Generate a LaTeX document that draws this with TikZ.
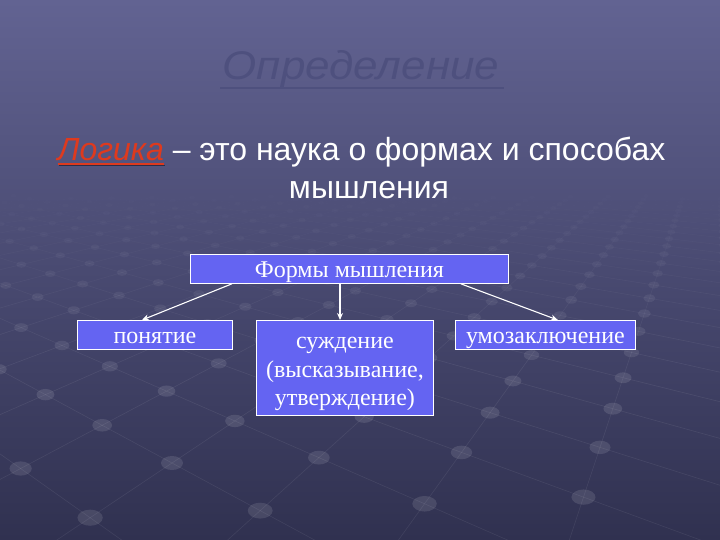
\documentclass[tikz,border=0pt]{standalone}
\usepackage{fontspec}
\setmainfont{Liberation Serif}
\newfontfamily\arialf{Liberation Sans}
\usetikzlibrary{arrows.meta,calc}
\definecolor{bgtop}{RGB}{98,99,146}
\definecolor{bgbot}{RGB}{48,49,80}
\definecolor{boxfill}{RGB}{100,100,242}
\definecolor{titlecol}{RGB}{78,80,126}
\definecolor{logred}{RGB}{222,58,30}
\definecolor{shadowc}{RGB}{45,45,72}
\newcommand\getP[2]{%
  \pgfmathsetmacro\gD{1+0.131*(#1)+0.116*(#2)}%
  \pgfmathsetmacro\gE{max(\gD,0.4)}%
  \pgfmathsetmacro\gx{(172+93.67*(#1)-58*(#2))/\gE}%
  \pgfmathsetmacro\gy{(463+13.1*(#1)+11.6*(#2))/\gE}}
\newcommand\shadowul[1]{\setbox0\hbox{\itshape #1}%
  \rlap{\raisebox{-1.5pt}{\hspace{1.5pt}\textcolor{shadowc}{\rule[-4pt]{\wd0}{1.6pt}}}}%
  \rlap{\textcolor{logred}{\rule[-4pt]{\wd0}{1.6pt}}}%
  \textcolor{logred}{\box0}}
\tikzset{
  formbox/.style={draw=white, line width=0.8pt, fill=boxfill, text=white,
    font=\fontsize{24}{28.3}\selectfont, inner sep=0pt, anchor=north west, align=center},
  onebox/.style={formbox, text height=17pt, text depth=0pt},
  conn/.style={draw=white, line width=1.1pt, -{Stealth[length=7pt,width=6pt]}},
  bodytext/.style={font=\arialf\fontsize{32}{38}\selectfont, text=white, anchor=base, inner sep=0pt},
}
\begin{document}
\begin{tikzpicture}[x=1pt,y=-1pt]
\useasboundingbox (0,0) rectangle (720,540);
\shade[top color=bgtop, bottom color=bgbot] (0,0) rectangle (720,540);
\begin{scope}
\clip (0,0) rectangle (720,540);
% perspective grid (lines)
\foreach \i in {-8,...,44}{\foreach \j in {-8,...,30}{%
  \getP{\i}{\j}\let\xa\gx\let\ya\gy\let\Da\gD
  \pgfmathparse{and(\Da>0.6,\Da<8)}%
  \ifnum\pgfmathresult=1
    \pgfmathsetmacro\op{0.075*max(0,min(1,(\ya-185)/200))}%
    \getP{\i+1}{\j}%
    \pgfmathparse{\gD>0.6}\ifnum\pgfmathresult=1
      \draw[white, opacity=\op, line width=0.6pt] (\xa,\ya) -- (\gx,\gy);\fi
    \getP{\i}{\j+1}%
    \pgfmathparse{\gD>0.6}\ifnum\pgfmathresult=1
      \draw[white, opacity=\op, line width=0.6pt] (\xa,\ya) -- (\gx,\gy);\fi
  \fi}}
% dots
\foreach \i in {-8,...,44}{\foreach \j in {-8,...,30}{%
  \getP{\i}{\j}%
  \pgfmathparse{and(\gD>0.6,\gD<8)}%
  \ifnum\pgfmathresult=1
    \pgfmathsetmacro\op{0.11*max(0,min(1,(\gy-185)/200))}%
    \pgfmathsetmacro\rx{11/\gD}\pgfmathsetmacro\ry{7/\gD}%
    \fill[white, opacity=\op] (\gx,\gy) ellipse [x radius=\rx pt, y radius=\ry pt];
  \fi}}
\end{scope}
% title
\node[font=\arialf\itshape\fontsize{40}{44}\selectfont, text=titlecol, anchor=base, inner sep=0pt, xscale=1.1] (T) at (361,80) {Определение};
\draw[titlecol, line width=2pt] ([yshift=-8.5pt,xshift=-2pt]T.base west) -- ([yshift=-8.5pt,xshift=4pt]T.base east);
% body text
\node[bodytext] (L1) at (361.5,161) {\shadowul{Логика} – это наука о формах и способах};
\node[bodytext] (L2) at (369,199) {мышления};
% boxes
\node[onebox, minimum width=318pt, minimum height=29pt] (F) at (190,254) {Формы мышления};
\node[onebox, minimum width=155pt, minimum height=29pt] (P) at (77,320) {понятие};
\node[formbox, text height=80pt, text depth=5pt, minimum width=177pt, minimum height=95pt] (S) at (256,320) {суждение\\(высказывание,\\утверждение)};
\node[onebox, minimum width=180pt, minimum height=29pt] (U) at (455,320) {умозаключение};
% connectors
\draw[conn] ([xshift=42pt]F.south west) -- ([xshift=65pt]P.north west);
\draw[conn] ([xshift=150pt]F.south west) -- ([xshift=84pt]S.north west);
\draw[conn] ([xshift=-48pt]F.south east) -- ([xshift=-78pt]U.north east);
\end{tikzpicture}
\end{document}
